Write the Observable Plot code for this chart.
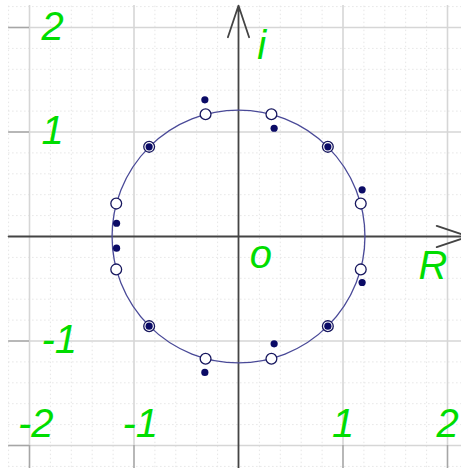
<!DOCTYPE html>
<html>
<head>
<meta charset="utf-8">
<script src="https://cdn.jsdelivr.net/npm/d3@7"></script>
<script src="https://cdn.jsdelivr.net/npm/@observablehq/plot@0.6"></script>
<style>
  html, body { margin: 0; padding: 0; background: #fff; overflow: hidden; }
  #chart svg { display: block; overflow: hidden; }
</style>
</head>
<body>
<div id="chart"></div>
<script>
// Complex plane: twelve open points on a circle and twelve nearby filled points.
const openRe   = [0.315, 0.855, 1.17, 1.17, 0.855, 0.315, -0.315, -0.855, -1.17, -1.17, -0.855, -0.315];
const openIm   = [1.17, 0.858, 0.315, -0.315, -0.858, -1.17, -1.17, -0.858, -0.315, 0.315, 0.858, 1.17];
const filledRe = [-0.322, 0.341, 0.855, 1.183, 1.183, 0.855, 0.341, -0.322, -0.855, -1.167, -1.167, -0.855];
const filledIm = [1.308, 1.036, 0.858, 0.447, -0.44, -0.858, -1.027, -1.301, -0.858, -0.112, 0.127, 0.858];
const circleRadius = 1.21;

// Axis ticks and grid
const xTickLabels = [-2, -1, 1, 2];
const yTickLabels = [2, 1, -1];
const majorTicks = [-2, -1, 1, 2];
const minorTicks = [-2.2, -1.8, -1.6, -1.4, -1.2, -0.8, -0.6, -0.4, -0.2, 0.2, 0.4, 0.6, 0.8,
                    1.2, 1.4, 1.6, 1.8, 2.2];
const axisNames = ["i", "o", "R"];

const W = 461, H = 468;
const xRange = [29, 447], yRange = [445, 27];
const domain = [-2, 2];
const unitPx = (xRange[1] - xRange[0]) / (domain[1] - domain[0]);

const openPts = openRe.map((re, i) => ({re, im: openIm[i]}));
const filledPts = filledRe.map((re, i) => ({re, im: filledIm[i]}));

const green = "#00dd00";
const font = {fontFamily: "'Liberation Sans', Arial, sans-serif", fontStyle: "italic", fontSize: 40, fill: green, lineAnchor: "bottom"};
const axisStroke = 1.8;
const headLen = 33.4 * 1.5 / axisStroke;

const chart = Plot.plot({
  width: W,
  height: H,
  margin: 0,
  x: {domain, range: xRange, axis: null},
  y: {domain, range: yRange, axis: null},
  marks: [
    // minor grid
    Plot.ruleX(minorTicks, {y1: -2.25, y2: 2.22, stroke: "#e6e6e6", strokeDasharray: "1.5,2.5"}),
    Plot.ruleY(minorTicks, {x1: -2.2, x2: 2.25, stroke: "#e6e6e6", strokeDasharray: "1.5,2.5"}),
    // major grid
    Plot.ruleX(majorTicks, {y1: -2, y2: 2.21, stroke: "#d6d6d6", strokeWidth: 1.6}),
    Plot.ruleY(majorTicks, {x1: -2, x2: 2.25, stroke: "#d6d6d6", strokeWidth: 1.6}),
    Plot.ruleX(majorTicks, {y1: -2.25, y2: -2, stroke: "#a6a6a6", strokeWidth: 1.6}),
    Plot.ruleY(majorTicks, {x1: -2.2, x2: -2, stroke: "#a6a6a6", strokeWidth: 1.6}),
    // axes with arrowheads
    Plot.arrow([{x1: -2.2, y1: 0, x2: 2.2, y2: 0}], {
      x1: "x1", y1: "y1", x2: "x2", y2: "y2",
      stroke: "#444", strokeWidth: axisStroke, headLength: headLen, headAngle: 37
    }),
    Plot.arrow([{x1: 0, y1: -2.25, x2: 0, y2: 2.21}], {
      x1: "x1", y1: "y1", x2: "x2", y2: "y2",
      stroke: "#444", strokeWidth: axisStroke, headLength: headLen, headAngle: 37
    }),
    // tick labels
    Plot.text(xTickLabels, {
      x: d => d + (d < 0 ? 0.06 : 0), y: -1.914, text: d => String(d),
      textAnchor: "middle", ...font
    }),
    Plot.text(yTickLabels, {
      x: -1.885, y: d => d - 0.115, text: d => String(d),
      textAnchor: "start", ...font
    }),
    // axis names
    Plot.text([axisNames[0]], {x: 0.18, y: 1.703, text: d => d, textAnchor: "start", ...font}),
    Plot.text([axisNames[1]], {x: 0.215, y: -0.297, text: d => d, textAnchor: "middle", ...font}),
    Plot.text([axisNames[2]], {x: 1.861, y: -0.411, text: d => d, textAnchor: "middle", ...font}),
    // circle through the open points
    Plot.dot([{re: 0, im: 0}], {
      x: "re", y: "im", r: circleRadius * unitPx,
      fill: "none", stroke: "#4a4a98", strokeWidth: 1.3
    }),
    Plot.dot(openPts, {x: "re", y: "im", r: 5.4, fill: "white", stroke: "#17175e", strokeWidth: 1.3}),
    Plot.dot(filledPts, {x: "re", y: "im", r: 3.6, fill: "#0b0b66", stroke: "none"})
  ]
});

document.getElementById("chart").appendChild(chart);
</script>
</body>
</html>
